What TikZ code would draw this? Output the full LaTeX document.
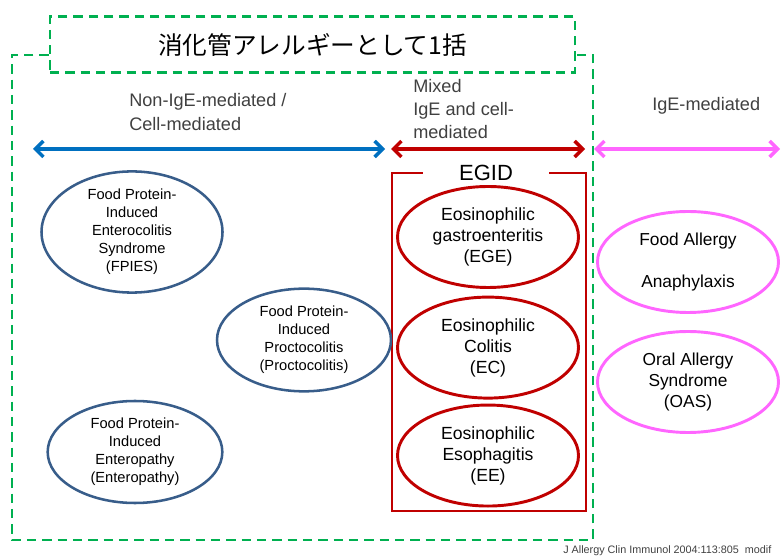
\documentclass[tikz,border=0pt]{standalone}
\usepackage{fontspec}
\setmainfont{Liberation Sans}
\newfontfamily\jpfont{Noto Sans CJK JP}
\usetikzlibrary{shapes.geometric, arrows.meta, positioning}
\definecolor{grpgreen}{RGB}{0,176,80}
\definecolor{cellblue}{RGB}{0,112,192}
\definecolor{egidred}{RGB}{192,0,0}
\definecolor{igepink}{RGB}{255,102,255}
\definecolor{ovalblue}{RGB}{56,93,138}
\definecolor{txtgray}{RGB}{64,64,64}
\tikzstyle{grp}=[grpgreen,line width=1.9pt,dash pattern=on 7pt off 4.5pt]
\tikzstyle{rng}=[line width=2.6pt,{Straight Barb[length=6pt,width=12pt]}-{Straight Barb[length=6pt,width=12pt]}]
\tikzstyle{dis}=[ellipse,inner sep=0pt,minimum width=135.75pt,minimum height=75.75pt,align=center,line width=2.2pt]
\tikzstyle{cel}=[dis,draw=ovalblue,line width=1.9pt,font=\fontsize{11}{13.5}\selectfont]
\tikzstyle{eos}=[dis,draw=egidred,font=\fontsize{13.2}{15.75}\selectfont]
\tikzstyle{ige}=[dis,draw=igepink,font=\fontsize{13}{15.6}\selectfont]
\tikzstyle{hdr}=[txtgray,inner sep=0pt,align=left,anchor=west,font=\fontsize{13.6}{17.6}\selectfont]

\begin{document}
\begin{tikzpicture}[x=0.75pt,y=-0.75pt]
    \useasboundingbox (0,0) rectangle (782,559);
    % frames
    \node[grp,draw,text=black,inner sep=0pt,minimum width=393.75pt,minimum height=42pt,font=\jpfont\fontsize{18.5}{20}\selectfont] (title) at (312.5,44.5) {消化管アレルギーとして1括};
    \draw[grp] (title.west |- 0,55) -- (12,55) -- (12,540) -- (593,540) -- (593,55) -- (title.east |- 0,55);
    \draw[egidred,line width=2.2pt] (392,173) rectangle (586,511);
    \node[fill=white,inner sep=0pt,minimum width=95pt,minimum height=14pt,font=\fontsize{16.5}{18}\selectfont] (egid) at (486,173) {EGID};
    % ranges
    \node[hdr] (nonige) at (129,112) {Non-IgE-mediated /\\Cell-mediated};
    \node[hdr] (mixed) at (413,109) {Mixed\\IgE and cell-\\mediated};
    \node[hdr] (igemed) at (652,106) {IgE-mediated};
    \coordinate (c1) at (33,149);  \coordinate (c2) at (385,149);
    \coordinate (m1) at (391,149); \coordinate (m2) at (585,149);
    \coordinate (i1) at (594,149); \coordinate (i2) at (780,149);
    \draw[rng,cellblue] (c1) -- (c2);
    \draw[rng,egidred] (m1) -- (m2);
    \draw[rng,igepink] (i1) -- (i2);
    % diseases
    \node[cel] (fpies) at (132,232) {Food Protein-\\Induced\\Enterocolitis\\Syndrome\\(FPIES)};
    \node[cel,minimum width=130.5pt,minimum height=77pt] (procto) at (304,340) {Food Protein-\\Induced\\Proctocolitis\\(Proctocolitis)};
    \node[cel,minimum width=131pt,minimum height=76.5pt] (entero) at (135,452) {Food Protein-\\Induced\\Enteropathy\\(Enteropathy)};
    \node[eos] (ege) at (488,237) {Eosinophilic\\gastroenteritis\\(EGE)};
    \node[eos,below=5pt of ege] (ec) {Eosinophilic\\Colitis\\(EC)};
    \node[eos,below=3pt of ec] (ee) {Eosinophilic\\Esophagitis\\(EE)};
    \node[ige] (fa) at (688,262) {Food Allergy\\[15.6pt]Anaphylaxis};
    \node[ige] (oas) at (688,382) {Oral Allergy\\Syndrome\\(OAS)};
    \node[txtgray,inner sep=0pt,anchor=west,font=\fontsize{8.1}{10}\selectfont] (cite) at (563,551) {J Allergy Clin Immunol 2004:113:805\ \ modif};
\end{tikzpicture}
\end{document}
